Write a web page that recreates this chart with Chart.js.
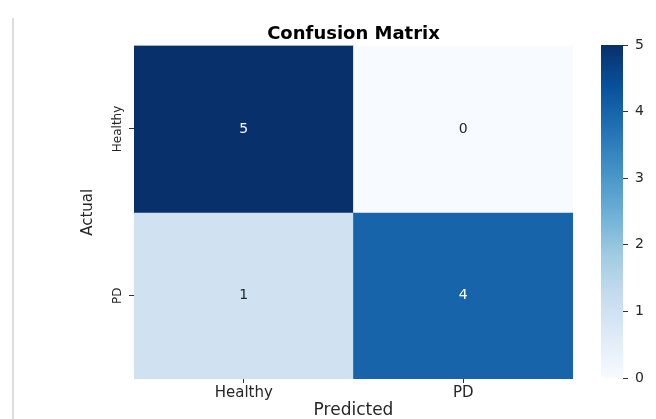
<!DOCTYPE html>
<html lang="en">
<head>
<meta charset="UTF-8">
<title>Confusion Matrix</title>
<script src="https://cdn.jsdelivr.net/npm/chart.js@4.4.1/dist/chart.umd.min.js"></script>
<style>
*{ margin:0; padding:0; box-sizing:border-box; }
body{ background:#fff; width:656px; height:419px; overflow:hidden; position:relative; }
#edge{ position:absolute; left:12px; top:18px; width:2px; height:401px; background:#dcdcdc; }
#matrix{ position:absolute; left:0; top:0; }
#colorbar{ position:absolute; left:601px; top:0; }
</style>
</head>
<body>
<div id="edge"></div>
<canvas id="matrix" width="656" height="419"></canvas>
<canvas id="colorbar" width="55" height="419"></canvas>
<script>
// data
const predicted = ['Healthy', 'PD'];
const actual = ['Healthy', 'PD'];
const rowHealthy = [5, 0];
const rowPD = [1, 4];
const cbTicks = [0, 1, 2, 3, 4, 5];

// matplotlib "Blues"
const bluesStops = ['#f7fbff', '#deebf7', '#c6dbef', '#9ecae1', '#6baed6', '#4292c6', '#2171b5', '#08519c', '#08306b'];

function hexRgb(h) {
  return [parseInt(h.slice(1, 3), 16), parseInt(h.slice(3, 5), 16), parseInt(h.slice(5, 7), 16)];
}
function blues(t) {
  const n = bluesStops.length - 1;
  const p = Math.min(Math.max(t, 0), 1) * n;
  const i = Math.min(Math.floor(p), n - 1);
  const f = p - i;
  const a = hexRgb(bluesStops[i]), b = hexRgb(bluesStops[i + 1]);
  const c = a.map((v, k) => Math.round(v + (b[k] - v) * f));
  return 'rgb(' + c.join(',') + ')';
}

Chart.defaults.font.family = '"DejaVu Sans", sans-serif';
const vmax = cbTicks[cbTicks.length - 1];
const rows = [rowHealthy, rowPD];

const datasets = rows.map((vals, i) => ({
  label: actual[i],
  data: predicted.map(() => [actual.length - 1 - i, actual.length - i]),
  values: vals,
  backgroundColor: vals.map(v => blues(v / vmax)),
  borderWidth: 0,
  grouped: false,
  barPercentage: 1,
  categoryPercentage: 1
}));

const cellText = {
  id: 'cellText',
  afterDatasetsDraw(chart) {
    const ctx = chart.ctx;
    ctx.save();
    ctx.font = '14px "DejaVu Sans"';
    ctx.textAlign = 'center';
    ctx.textBaseline = 'middle';
    chart.data.datasets.forEach((ds, i) => {
      chart.getDatasetMeta(i).data.forEach((bar, j) => {
        const v = ds.values[j];
        ctx.fillStyle = v > vmax / 2 ? '#ffffff' : '#262626';
        ctx.fillText(String(v), bar.x, (bar.y + bar.base) / 2);
      });
    });
    ctx.restore();
  }
};

new Chart(document.getElementById('matrix'), {
  type: 'bar',
  data: { labels: predicted, datasets: datasets },
  plugins: [cellText],
  options: {
    responsive: false,
    animation: false,
    layout: { padding: { top: 24, right: 83, bottom: 0, left: 70 } },
    plugins: {
      legend: { display: false },
      tooltip: { enabled: false },
      title: {
        display: true,
        text: 'Confusion Matrix',
        fullSize: false,
        color: '#000',
        font: { size: 18, weight: 'bold' },
        padding: { top: 0, bottom: 0 }
      }
    },
    scales: {
      x: {
        ticks: { font: { size: 15 }, color: '#262626', padding: 1 },
        grid: { offset: false, drawOnChartArea: false, tickLength: 4, color: '#333' },
        border: { display: false },
        title: { display: true, text: 'Predicted', color: '#262626', font: { size: 17 }, padding: { top: 0, bottom: -2 } },
        afterFit: s => { s.height = 40; }
      },
      y: {
        min: 0,
        max: actual.length,
        afterBuildTicks: s => { s.ticks = actual.map((_, i) => ({ value: actual.length - i - 0.5 })); },
        ticks: {
          callback: v => actual[actual.length - 1 - Math.floor(v)],
          minRotation: 90,
          maxRotation: 90,
          crossAlign: 'center',
          padding: -12,
          font: { size: 12 },
          color: '#262626'
        },
        grid: { drawOnChartArea: false, tickLength: 5, color: '#333' },
        border: { display: false },
        title: { display: true, text: 'Actual', color: '#262626', font: { size: 15 }, padding: { top: 9, bottom: 0 } },
        afterFit: s => { s.width = 64; }
      }
    }
  }
});

// colour bar
new Chart(document.getElementById('colorbar'), {
  type: 'bar',
  data: {
    labels: [''],
    datasets: [{
      data: [[cbTicks[0], vmax]],
      backgroundColor: c => {
        const a = c.chart.chartArea;
        if (!a) return blues(0.5);
        const g = c.chart.ctx.createLinearGradient(0, a.bottom, 0, a.top);
        bluesStops.forEach((col, i) => g.addColorStop(i / (bluesStops.length - 1), col));
        return g;
      },
      borderWidth: 0,
      barPercentage: 1,
      categoryPercentage: 1
    }]
  },
  options: {
    responsive: false,
    animation: false,
    layout: { padding: { top: 45, bottom: 41, left: 0, right: 0 } },
    plugins: { legend: { display: false }, tooltip: { enabled: false } },
    scales: {
      x: { display: false },
      y: {
        position: 'right',
        min: cbTicks[0],
        max: vmax,
        afterBuildTicks: s => { s.ticks = cbTicks.map(v => ({ value: v })); },
        ticks: { font: { size: 14 }, color: '#262626', padding: 7 },
        grid: { drawOnChartArea: false, tickLength: 5, color: '#333' },
        border: { display: false },
        afterFit: s => { s.width = 33; }
      }
    }
  }
});
</script>
</body>
</html>
